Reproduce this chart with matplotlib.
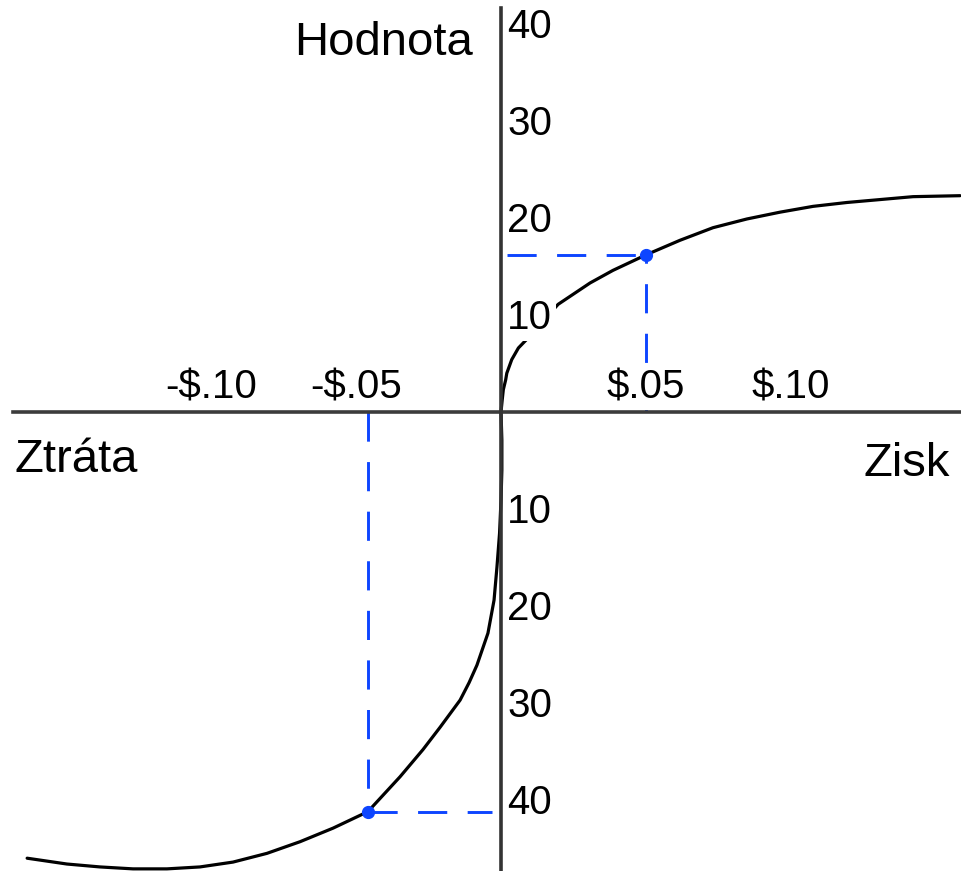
import matplotlib
matplotlib.use('Agg')
import matplotlib.pyplot as plt
import numpy as np

plt.rcParams['font.family'] = ['Liberation Sans', 'DejaVu Sans']

# value function (gain in $, value)
gain_x = [0.0, 0.0004, 0.0008, 0.0016, 0.0020, 0.0037, 0.0060, 0.0089, 0.0197,
          0.0307, 0.0386, 0.0500, 0.0617, 0.0731, 0.0848, 0.0962, 0.1076,
          0.1193, 0.1307, 0.1421, 0.1583]
gain_y = [0.0, 1.2, 2.3, 3.3, 4.0, 5.4, 6.6, 7.5, 11.1,
          13.3, 14.6, 16.2, 17.7, 19.0, 19.9, 20.6, 21.2,
          21.6, 21.9, 22.2, 22.3]
loss_x = [0.0, 0.0003, 0.0003, 0.0, -0.0005, -0.0014, -0.0024, -0.0045, -0.0083,
          -0.0110, -0.0141, -0.0210, -0.0269, -0.0348, -0.0459, -0.0579, -0.0693,
          -0.0807, -0.0924, -0.1038, -0.1152, -0.1269, -0.1383, -0.1497, -0.1634]
loss_y = [0.0, -2.9, -6.0, -9.1, -12.5, -16.0, -19.4, -22.8, -26.1,
          -27.9, -29.7, -32.5, -34.8, -37.6, -41.2, -42.9, -44.3,
          -45.5, -46.4, -46.9, -47.1, -47.1, -46.9, -46.6, -46.0]

# highlighted points
pts_x = [0.050, -0.0459]
pts_y = [16.2, -41.2]

x_ticks = [-0.10, -0.05, 0.05, 0.10]
x_labels = ['-$.10', '-$.05', '$.05', '$.10']
y_ticks = [40, 30, 20, 10, -10, -20, -30, -40]
y_labels = ['40', '30', '20', '10', '10', '20', '30', '40']

W, H = 961, 871
fig = plt.figure(figsize=(W / 100, H / 100), dpi=100)
ax = fig.add_axes([0, 0, 1, 1])
ax.set_axis_off()
# pixel scale: 2900 px per dollar, 9.7 px per value unit, origin at (501, 412)
ax.set_xlim((0 - 501) / 2900, (W - 501) / 2900)
ax.set_ylim((412 - H) / 9.7, 412 / 9.7)

blue = '#0d45ff'
dash = (0, (10, 7))

# dashed guides
ax.plot([pts_x[0], pts_x[0]], [0, pts_y[0]], color=blue, lw=2.1, ls=dash, zorder=2)
ax.plot([0.0021, pts_x[0]], [pts_y[0], pts_y[0]], color=blue, lw=2.1, ls=dash, zorder=2)
ax.plot([pts_x[1], pts_x[1]], [0, pts_y[1]], color=blue, lw=2.1, ls=dash, zorder=2)
ax.plot([pts_x[1], -0.003], [pts_y[1], pts_y[1]], color=blue, lw=2.1, ls=dash, zorder=2)

ax.plot(gain_x, gain_y, color='black', lw=2.3, zorder=2,
        solid_capstyle='round', solid_joinstyle='round')
ax.plot(loss_x, loss_y, color='black', lw=2.3, zorder=2,
        solid_capstyle='round', solid_joinstyle='round')

box = dict(facecolor='white', edgecolor='none', pad=3)
for v, s in zip(x_ticks, x_labels):
    ax.annotate(s, (v, 0), xytext=(0, 10), textcoords='offset points',
                ha='center', va='baseline', fontsize=29, bbox=box, zorder=3)
for v, s in zip(y_ticks, y_labels):
    ax.annotate(s, (0, v), xytext=(4.5, -10), textcoords='offset points',
                ha='left', va='baseline', fontsize=29, bbox=box, zorder=3)

ax.axhline(0, xmin=13 / W, color='#3c3c3c', lw=2.6, zorder=4)
ax.axvline(0, ymax=1 - 8 / H, color='#333333', lw=2.6, zorder=4)

ax.plot(pts_x, pts_y, 'o', color=blue, ms=8.5, zorder=5)

ax.text(473 / W, 1 - 55 / H, 'Hodnota', transform=ax.transAxes,
        ha='right', va='baseline', fontsize=34)
ax.text(15 / W, 1 - 472 / H, 'Ztráta', transform=ax.transAxes,
        ha='left', va='baseline', fontsize=34)
ax.text(950 / W, 1 - 476 / H, 'Zisk', transform=ax.transAxes,
        ha='right', va='baseline', fontsize=34)

fig.savefig('out.png', dpi=100)
